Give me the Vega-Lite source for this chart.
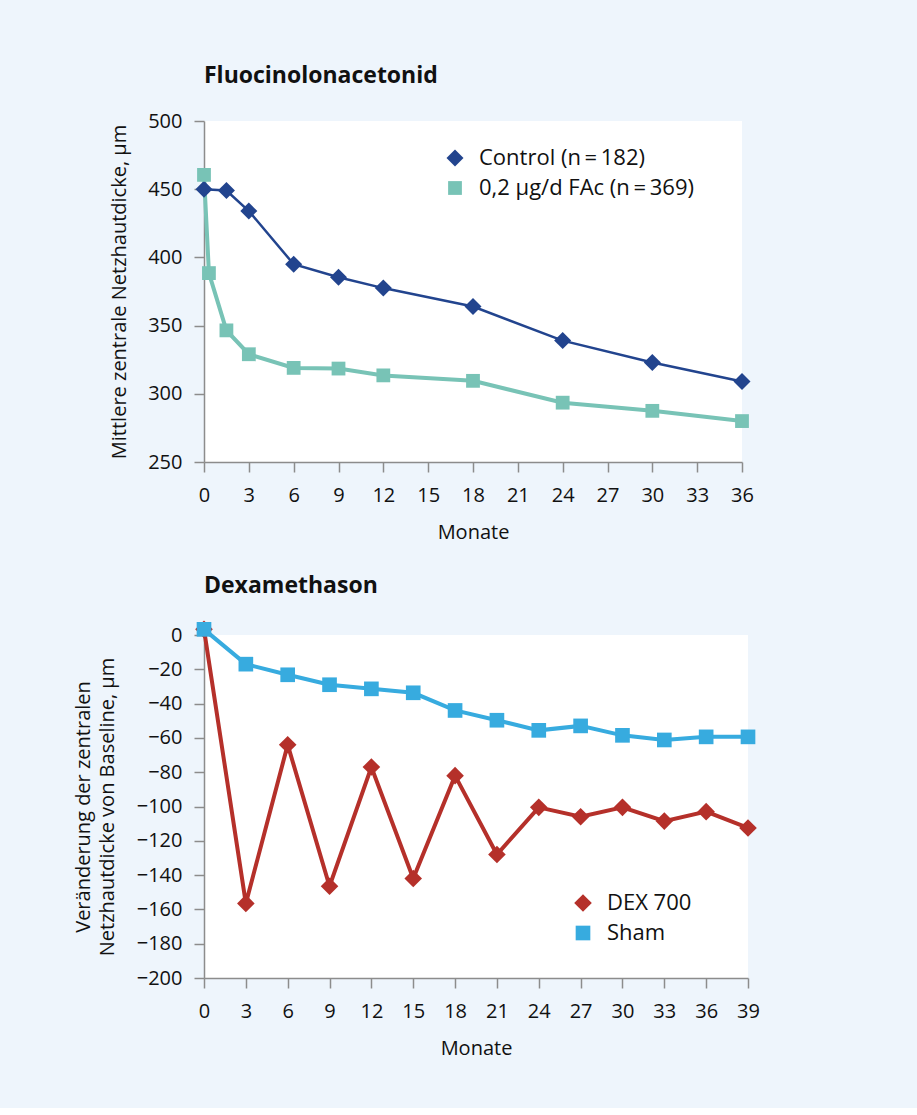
{
  "$schema": "https://vega.github.io/schema/vega-lite/v6.json",
  "background": "#eef5fc",
  "padding": {"left": 73, "top": 65, "right": 162, "bottom": 50},
  "config": {
    "font": "Open Sans",
    "view": {"stroke": null, "fill": "white"},
    "axis": {
      "grid": false,
      "labelFlush": false,
      "labelOverlap": false,
      "domainColor": "#8c8c8c",
      "domainWidth": 1.5,
      "tickColor": "#8c8c8c",
      "tickWidth": 1.5,
      "tickSize": 10,
      "labelFontSize": 20,
      "labelColor": "#111111",
      "labelFont": "Open Sans",
      "titleFont": "Open Sans",
      "titleFontSize": 20,
      "titleFontWeight": "normal",
      "titleColor": "#111111"
    },
    "axisX": {"labelPadding": 13, "titlePadding": 17},
    "axisY": {"labelPadding": 12, "titlePadding": 18},
    "title": {"anchor": "start", "frame": "group", "fontSize": 23, "fontWeight": "bold", "color": "#111111", "offset": 23, "font": "Open Sans"},
    "legend": {
      "labelFontSize": 22,
      "labelColor": "#111111",
      "labelFont": "Open Sans",
      "labelLimit": 500,
      "symbolStrokeWidth": 0,
      "rowPadding": 8,
      "labelOffset": 13,
      "padding": 0
    },
    "concat": {"spacing": 32}
  },
  "resolve": {
    "scale": {"color": "independent", "stroke": "independent", "shape": "independent", "size": "independent", "strokeWidth": "independent"},
    "legend": {"color": "independent", "shape": "independent", "size": "independent"}
  },
  "vconcat": [
    {
      "title": "Fluocinolonacetonid",
      "width": 538,
      "height": 341,
      "data": {
        "values": [
          {"series": "Control (n\u2009=\u2009182)", "month": 0, "value": 450},
          {"series": "Control (n\u2009=\u2009182)", "month": 1.5, "value": 449},
          {"series": "Control (n\u2009=\u2009182)", "month": 3, "value": 434},
          {"series": "Control (n\u2009=\u2009182)", "month": 6, "value": 395},
          {"series": "Control (n\u2009=\u2009182)", "month": 9, "value": 385.5},
          {"series": "Control (n\u2009=\u2009182)", "month": 12, "value": 377.5},
          {"series": "Control (n\u2009=\u2009182)", "month": 18, "value": 364},
          {"series": "Control (n\u2009=\u2009182)", "month": 24, "value": 339},
          {"series": "Control (n\u2009=\u2009182)", "month": 30, "value": 323},
          {"series": "Control (n\u2009=\u2009182)", "month": 36, "value": 309},
          {"series": "0,2 µg/d FAc (n\u2009=\u2009369)", "month": 0, "value": 460.5},
          {"series": "0,2 µg/d FAc (n\u2009=\u2009369)", "month": 0.33, "value": 388.5},
          {"series": "0,2 µg/d FAc (n\u2009=\u2009369)", "month": 1.5, "value": 346.5},
          {"series": "0,2 µg/d FAc (n\u2009=\u2009369)", "month": 3, "value": 329},
          {"series": "0,2 µg/d FAc (n\u2009=\u2009369)", "month": 6, "value": 319},
          {"series": "0,2 µg/d FAc (n\u2009=\u2009369)", "month": 9, "value": 318.5},
          {"series": "0,2 µg/d FAc (n\u2009=\u2009369)", "month": 12, "value": 313.5},
          {"series": "0,2 µg/d FAc (n\u2009=\u2009369)", "month": 18, "value": 309.5},
          {"series": "0,2 µg/d FAc (n\u2009=\u2009369)", "month": 24, "value": 293.5},
          {"series": "0,2 µg/d FAc (n\u2009=\u2009369)", "month": 30, "value": 287.5},
          {"series": "0,2 µg/d FAc (n\u2009=\u2009369)", "month": 36, "value": 280}
        ]
      },
      "encoding": {
        "x": {
          "field": "month",
          "type": "quantitative",
          "scale": {"domain": [0, 36], "nice": false, "zero": false},
          "axis": {"values": [0, 3, 6, 9, 12, 15, 18, 21, 24, 27, 30, 33, 36], "title": "Monate"}
        },
        "y": {
          "field": "value",
          "type": "quantitative",
          "scale": {"domain": [250, 500], "nice": false, "zero": false},
          "axis": {"values": [250, 300, 350, 400, 450, 500], "title": "Mittlere zentrale Netzhautdicke, µm"}
        }
      },
      "layer": [
        {
          "mark": {"type": "line"},
          "encoding": {
            "stroke": {
              "field": "series",
              "type": "nominal",
              "scale": {"range": ["#78c3b6", "#22448e"]},
              "legend": null
            },
            "strokeWidth": {
              "field": "series",
              "type": "nominal",
              "scale": {"range": [4, 2.5]},
              "legend": null
            }
          }
        },
        {
          "mark": {"type": "point", "filled": true, "opacity": 1},
          "encoding": {
            "color": {
              "field": "series",
              "type": "nominal",
              "scale": {"domain": ["Control (n\u2009=\u2009182)", "0,2 µg/d FAc (n\u2009=\u2009369)"], "range": ["#22448e", "#78c3b6"]},
              "legend": {"orient": "none", "legendX": 240, "legendY": 26, "title": null}
            },
            "shape": {
              "field": "series",
              "type": "nominal",
              "scale": {"domain": ["Control (n\u2009=\u2009182)", "0,2 µg/d FAc (n\u2009=\u2009369)"], "range": ["diamond", "square"]},
              "legend": {"orient": "none", "legendX": 240, "legendY": 26, "title": null}
            },
            "size": {
              "field": "series",
              "type": "nominal",
              "scale": {"domain": ["Control (n\u2009=\u2009182)", "0,2 µg/d FAc (n\u2009=\u2009369)"], "range": [290, 190]},
              "legend": {"orient": "none", "legendX": 240, "legendY": 26, "title": null}
            }
          }
        }
      ]
    },
    {
      "title": "Dexamethason",
      "width": 544,
      "height": 343,
      "data": {
        "values": [
          {"series": "DEX 700", "month": 0, "value": 3.3},
          {"series": "DEX 700", "month": 3, "value": -156.5},
          {"series": "DEX 700", "month": 6, "value": -64},
          {"series": "DEX 700", "month": 9, "value": -146.5},
          {"series": "DEX 700", "month": 12, "value": -77},
          {"series": "DEX 700", "month": 15, "value": -142},
          {"series": "DEX 700", "month": 18, "value": -82},
          {"series": "DEX 700", "month": 21, "value": -128},
          {"series": "DEX 700", "month": 24, "value": -100.5},
          {"series": "DEX 700", "month": 27, "value": -106},
          {"series": "DEX 700", "month": 30, "value": -100.5},
          {"series": "DEX 700", "month": 33, "value": -108.5},
          {"series": "DEX 700", "month": 36, "value": -103},
          {"series": "DEX 700", "month": 39, "value": -112.5},
          {"series": "Sham", "month": 0, "value": 3.3},
          {"series": "Sham", "month": 3, "value": -17},
          {"series": "Sham", "month": 6, "value": -23.2},
          {"series": "Sham", "month": 9, "value": -29},
          {"series": "Sham", "month": 12, "value": -31.4},
          {"series": "Sham", "month": 15, "value": -33.7},
          {"series": "Sham", "month": 18, "value": -44},
          {"series": "Sham", "month": 21, "value": -49.7},
          {"series": "Sham", "month": 24, "value": -55.6},
          {"series": "Sham", "month": 27, "value": -53},
          {"series": "Sham", "month": 30, "value": -58.5},
          {"series": "Sham", "month": 33, "value": -61.2},
          {"series": "Sham", "month": 36, "value": -59.4},
          {"series": "Sham", "month": 39, "value": -59.4}
        ]
      },
      "encoding": {
        "x": {
          "field": "month",
          "type": "quantitative",
          "scale": {"domain": [0, 39], "nice": false, "zero": false},
          "axis": {"values": [0, 3, 6, 9, 12, 15, 18, 21, 24, 27, 30, 33, 36, 39], "title": "Monate"}
        },
        "y": {
          "field": "value",
          "type": "quantitative",
          "scale": {"domain": [-200, 0], "nice": false, "zero": false},
          "axis": {
            "values": [-200, -180, -160, -140, -120, -100, -80, -60, -40, -20, 0],
            "title": ["Veränderung der zentralen", "Netzhautdicke von Baseline, µm"],
            "titleLineHeight": 24,
            "titlePadding": 19
          }
        }
      },
      "layer": [
        {
          "mark": {"type": "line", "strokeWidth": 4},
          "encoding": {
            "stroke": {
              "field": "series",
              "type": "nominal",
              "scale": {"range": ["#b5302a", "#37abdf"]},
              "legend": null
            }
          }
        },
        {
          "mark": {"type": "point", "filled": true, "opacity": 1},
          "encoding": {
            "color": {
              "field": "series",
              "type": "nominal",
              "scale": {"domain": ["DEX 700", "Sham"], "range": ["#b5302a", "#37abdf"]},
              "legend": {"orient": "none", "legendX": 368, "legendY": 257, "title": null}
            },
            "shape": {
              "field": "series",
              "type": "nominal",
              "scale": {"domain": ["DEX 700", "Sham"], "range": ["diamond", "square"]},
              "legend": {"orient": "none", "legendX": 368, "legendY": 257, "title": null}
            },
            "size": {
              "field": "series",
              "type": "nominal",
              "scale": {"domain": ["DEX 700", "Sham"], "range": [310, 215]},
              "legend": {"orient": "none", "legendX": 368, "legendY": 257, "title": null}
            }
          }
        }
      ]
    }
  ]
}
